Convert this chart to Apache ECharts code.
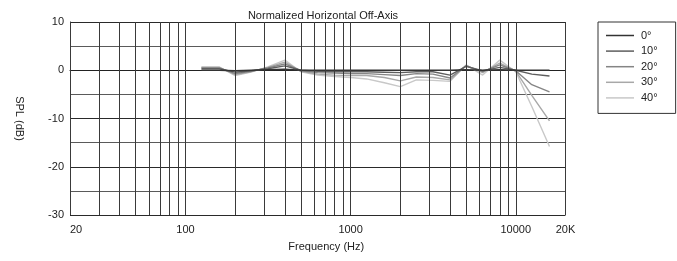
<!DOCTYPE html>
<html>
<head>
<meta charset="utf-8">
<script src="https://cdn.jsdelivr.net/npm/echarts@6/dist/echarts.min.js"></script>
<style>html,body{margin:0;padding:0;background:#fff}#c{width:677px;height:261px}</style>
</head>
<body>
<div id="c"></div>
<script>
const freqs = [125,160,200,250,315,400,500,630,800,1000,1250,1600,2000,2500,3150,4000,5000,6300,8000,10000,12500,16000];
const deg0  = [0,0,-0.1,0,0.1,0.2,0,0,0,0,0,0,0,0,0,0,0.1,0,0.1,0,0,0];
const deg10 = [0.3,0.3,-0.4,-0.1,0.3,0.9,0,-0.2,-0.3,-0.3,-0.3,-0.4,-0.5,-0.3,-0.3,-1.0,0.8,-0.1,0.6,0,-0.8,-1.2];
const deg20 = [0.5,0.5,-0.7,-0.2,0.5,1.3,-0.1,-0.5,-0.6,-0.7,-0.7,-0.9,-1.1,-0.7,-0.8,-1.6,0.9,-0.3,1.1,-0.1,-3.0,-4.5];
const deg30 = [0.6,0.6,-0.9,-0.3,0.6,1.7,-0.2,-0.8,-1.0,-1.1,-1.1,-1.5,-2.2,-1.4,-1.5,-2.0,1.0,-0.5,1.5,-0.2,-5.2,-10.5];
const deg40 = [0.7,0.7,-1.1,-0.4,0.7,2.1,-0.3,-1.0,-1.3,-1.5,-1.8,-2.6,-3.4,-2.0,-2.1,-2.3,1.1,-1.0,2.1,-0.3,-7.5,-15.8];
const seriesNames = ['0°','10°','20°','30°','40°'];
const xTickLabels = [20,100,1000,10000,20000];
const yTickLabels = [-30,-20,-10,0,10];
const gridFreqs = [20,30,40,50,60,70,80,90,100,200,300,400,500,600,700,800,900,1000,2000,3000,4000,5000,6000,7000,8000,9000,10000,20000];

const allData = [deg0, deg10, deg20, deg30, deg40];
const colors = ['#333333','#5e5e5e','#858585','#a8a8a8','#c8c8c8'];

const chart = echarts.init(document.getElementById('c'), null, {renderer:'canvas'});
const series = [];
for (let i = 4; i >= 0; i--) {
  series.push({
    name: seriesNames[i], type: 'line', symbol: 'none', silent: true,
    data: freqs.map((f, k) => [f, allData[i][k]]),
    lineStyle: {color: colors[i], width: 1.4},
    itemStyle: {color: colors[i]},
    z: 3
  });
}
series.push({
  name: 'grid', type: 'line', data: [], silent: true, z: 1,
  markLine: {
    silent: true, symbol: ['none','none'], label: {show: false}, animation: false,
    lineStyle: {color: '#3a3a3a', width: 1, type: 'solid'},
    data: gridFreqs.map(f => ({xAxis: f}))
  }
});

chart.setOption({
  animation: false,
  backgroundColor: '#fff',
  textStyle: {fontFamily: 'Liberation Sans, Arial, sans-serif'},
  title: {
    text: 'Normalized Horizontal Off-Axis', left: 318, top: 5, textAlign: 'center',
    textStyle: {fontSize: 11, fontWeight: 'normal', color: '#222', fontFamily: 'Liberation Sans'}
  },
  legend: {
    orient: 'vertical', left: 598, top: 22,
    data: seriesNames, icon: 'rect', itemWidth: 28, itemHeight: 1.5, itemGap: 2.6,
    padding: [7, 18, 9, 8],
    borderColor: '#333', borderWidth: 1,
    textStyle: {fontSize: 11, color: '#222', lineHeight: 13, fontFamily: 'Liberation Sans', padding: [0,0,0,2]}
  },
  grid: {left: 70, right: 111.5, top: 22, bottom: 46, containLabel: false},
  xAxis: {
    type: 'log', logBase: 10, min: 20, max: 20000,
    name: 'Frequency (Hz)', nameLocation: 'middle', nameGap: 26,
    nameTextStyle: {fontSize: 11, color: '#222', padding: [0,0,0,17], fontFamily: 'Liberation Sans'},
    axisLine: {show: true, lineStyle: {color: '#222', width: 1}},
    axisTick: {show: true, customValues: [100,1000,10000], length: 4, lineStyle: {color: '#222'}},
    axisLabel: {
      customValues: xTickLabels, margin: 9, fontSize: 11, color: '#222', fontFamily: 'Liberation Sans',
      formatter: v => (v >= 20000 ? '20K' : String(Math.round(v))),
      alignMinLabel: 'left'
    },
    splitLine: {show: false}, minorSplitLine: {show: false}
  },
  yAxis: {
    type: 'value', min: -30, max: 10, interval: 5,
    name: 'SPL (dB)', nameLocation: 'middle', nameRotate: -90, nameGap: 45,
    nameTextStyle: {fontSize: 11, color: '#222', fontFamily: 'Liberation Sans'},
    axisLine: {show: true, lineStyle: {color: '#222', width: 1}},
    axisTick: {show: false},
    axisLabel: {
      margin: 6, fontSize: 11, color: '#222', fontFamily: 'Liberation Sans',
      formatter: v => (yTickLabels.indexOf(v) >= 0 ? String(v) : '')
    },
    splitLine: {show: true, lineStyle: {color: ['#2a2a2a','#5a5a5a'], width: 1}}
  },
  series: series
});
</script>
</body>
</html>
